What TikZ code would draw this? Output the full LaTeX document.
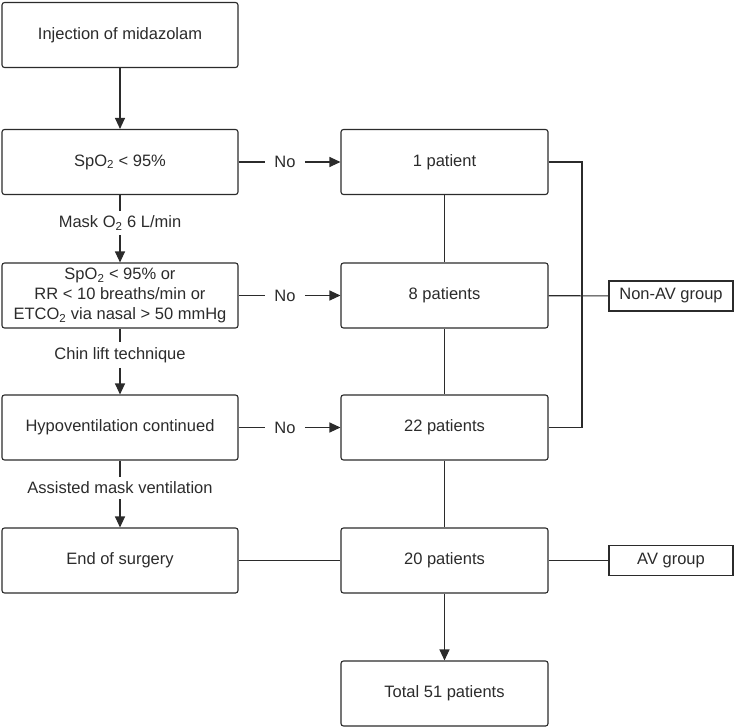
\documentclass[tikz,border=0pt]{standalone}
\usepackage{fontspec}
\setmainfont{Liberation Sans}
\usepackage{tikz}
\usetikzlibrary{arrows.meta,shapes}
\definecolor{ink}{HTML}{2B2B2B}
\tikzstyle{stepbox} = [draw=ink, line width=1.1pt, rounded corners=2.5pt, minimum width=236pt, minimum height=65pt, align=center, text=ink]
\tikzstyle{countbox} = [stepbox, minimum width=207pt]
\tikzstyle{groupbox} = [draw=ink, line width=1.1pt, minimum width=124pt, minimum height=30pt, text=ink]
\tikzstyle{note} = [draw=none, text=ink, inner xsep=9pt, inner ysep=5pt]
\tikzstyle{link} = [draw=ink, line width=1.1pt]
\tikzstyle{flow} = [link, -{Triangle[length=11pt,width=10pt]}]

\begin{document}
\begin{tikzpicture}[x=1pt, y=-1pt, font=\fontsize{16.5}{20}\selectfont]
		\useasboundingbox (0,0) rectangle (735,727);
		
		% left column
		\node[stepbox] (inj) at (120,35) {Injection of midazolam};
		\node[stepbox] (spo) at (120,162) {SpO\textsubscript{2} < 95\%};
		\node[stepbox] (crit) at (120,295.5) {SpO\textsubscript{2} < 95\% or\\RR < 10 breaths/min or\\ETCO\textsubscript{2} via nasal > 50 mmHg};
		\node[stepbox] (hypo) at (120,427.5) {Hypoventilation continued};
		\node[stepbox] (end) at (120,560.5) {End of surgery};
		
		% right column
		\node[countbox] (p1) at (444.5,162) {1 patient};
		\node[countbox] (p8) at (444.5,295.5) {8 patients};
		\node[countbox] (p22) at (444.5,427.5) {22 patients};
		\node[countbox] (p20) at (444.5,560.5) {20 patients};
		\node[countbox] (tot) at (444.5,693.5) {Total 51 patients};
		
		\node[groupbox] (nonav) at (671,296) {Non-AV group};
		\node[groupbox] (av) at (671,560.5) {AV group};
		
		% labels on the connectors
		\node[note] (mask) at (120,223) {Mask O\textsubscript{2} 6 L/min};
		\node[note] (chin) at (120,355) {Chin lift technique};
		\node[note] (assist) at (120,488) {Assisted mask ventilation};
		\node[note] (no1) at (285,162) {No};
		\node[note] (no2) at (285,295.5) {No};
		\node[note] (no3) at (285,427.5) {No};
		
		\draw[flow] (inj) -- (spo);
		\draw[link] (spo) -- (mask);
		\draw[flow] (mask) -- (crit);
		\draw[link] (crit) -- (chin);
		\draw[flow] (chin) -- (hypo);
		\draw[link] (hypo) -- (assist);
		\draw[flow] (assist) -- (end);
		
		\draw[link] (spo) -- (no1);
		\draw[flow] (no1) -- (p1);
		\draw[link] (crit) -- (no2);
		\draw[flow] (no2) -- (p8);
		\draw[link] (hypo) -- (no3);
		\draw[flow] (no3) -- (p22);
		
		\draw[link] (p1) -- (p8) -- (p22) -- (p20);
		\draw[flow] (p20) -- (tot);
		\draw[link] (end) -- (p20);
		\draw[link] (p20) -- (av);
		
		\coordinate (bus) at (582,162);
		\draw[link] (p1.east) -- (bus) -- (bus |- p22.east) -- (p22.east);
		\draw[link] (p8) -- (nonav);
	\end{tikzpicture}
\end{document}
